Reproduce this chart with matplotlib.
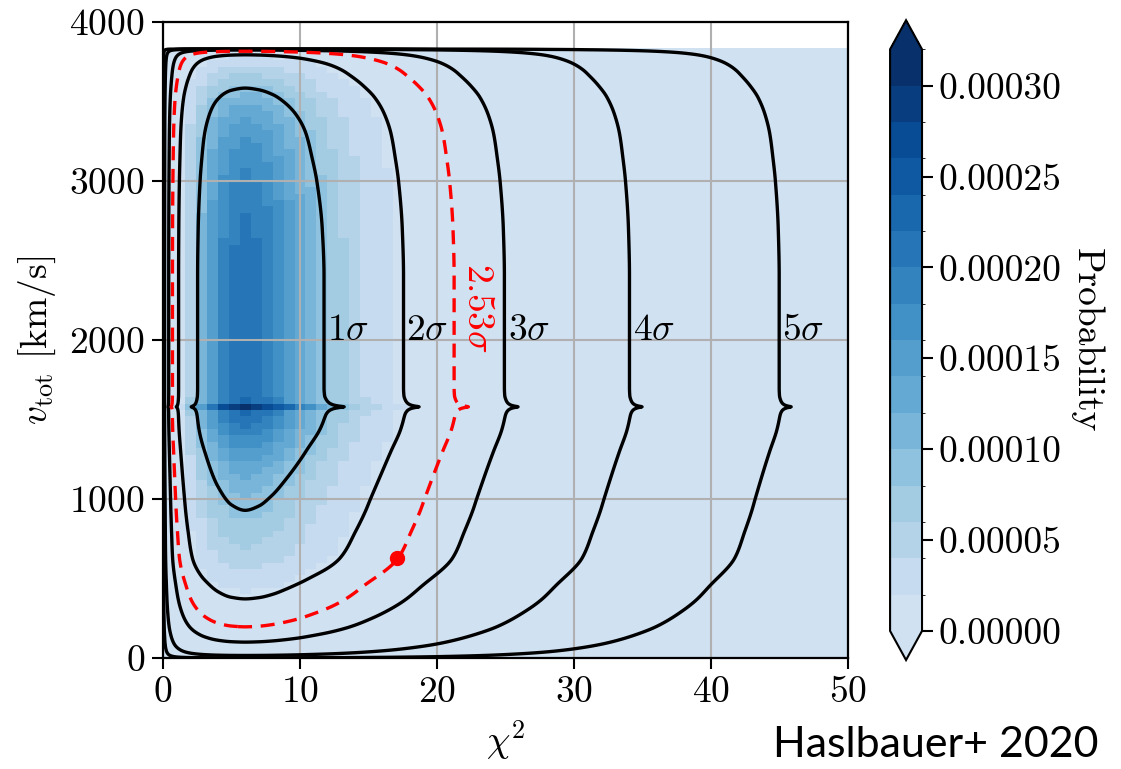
import numpy as np
import matplotlib
matplotlib.use("Agg")
import matplotlib.pyplot as plt
from matplotlib.colors import ListedColormap, BoundaryNorm
from matplotlib.ticker import FormatStrFormatter
from math import erf, sqrt

plt.rcParams["font.family"] = "serif"
plt.rcParams["font.serif"] = ["cmr10"]
plt.rcParams["mathtext.fontset"] = "cm"
plt.rcParams["axes.formatter.use_mathtext"] = True
plt.rcParams["axes.unicode_minus"] = False

# log-density profile along chi^2
chi2_knots = [0.0, 0.02, 0.03, 0.05, 0.1, 0.2, 0.35, 0.5, 0.75, 1, 1.5, 2, 2.5, 3,
              4, 5, 6, 7, 8, 9, 10, 11, 12, 13, 14, 15, 16, 17, 18, 20, 22, 24,
              26, 28, 30, 33, 36, 40, 44, 48, 52, 56, 60, 70, 80]
chi2_logp = [-40, -11.74, -10.52, -9.01, -6.96, -4.93, -3.32, -2.33, -1.24, -0.5,
             0.47, 1.08, 1.50, 1.80, 2.16, 2.33, 2.38, 2.34, 2.24, 2.09, 1.91,
             1.69, 1.46, 1.20, 0.92, 0.62, 0.32, 0.0, -0.33, -1.01, -1.73, -2.47,
             -3.23, -4.0, -4.8, -6.01, -7.25, -8.93, -10.65, -12.39, -14.15,
             -15.92, -17.72, -22.25, -26.85]

# log-density profile along v_tot (km/s)
v_knots = [0, 1, 5, 10, 20, 40, 70, 100, 150, 200, 300, 365, 450, 630, 800, 930,
           1000, 1200, 1300, 1430, 1480, 1510, 1535, 1555, 1568, 1575, 1580, 1585,
           1592, 1605, 1625, 1650, 1700, 2000, 2400, 2700, 3000, 3150, 3300, 3420,
           3530, 3600, 3660, 3700, 3740, 3770, 3790, 3805, 3815, 3822, 3828, 3832]
v_logp = [-30, -14.4, -11.2, -9.8, -8.4, -7.0, -5.9, -5.2, -4.4, -3.8, -3.0, -2.6,
          -2.2, -1.4, -1.08, -0.86, -0.76, -0.46, -0.3, -0.08, -0.02, 0.01, 0.04,
          0.09, 0.17, 0.27, 0.38, 0.27, 0.17, 0.09, 0.04, 0.01, 0.0, 0.0, 0.0,
          -0.03, -0.12, -0.2, -0.3, -0.45, -0.68, -0.92, -1.18, -1.38, -1.68,
          -2.05, -2.45, -3.0, -3.7, -4.7, -7.0, -14.0]

plateau_prob = 0.00021          # probability at the chi^2 mode, v_tot = 2000
sigmas = [1, 2, 3, 4, 5]
obs_sigma = 2.53
obs_chi2, obs_v = 17.1, 630

levels = np.linspace(0, 0.00032, 17)
cbar_ticks = [0, 0.00005, 0.0001, 0.00015, 0.0002, 0.00025, 0.0003]


def pchip(xk, yk, x):
    xk = np.asarray(xk, float)
    yk = np.asarray(yk, float)
    h = np.diff(xk)
    d = np.diff(yk) / h
    m = np.zeros_like(yk)
    m[0], m[-1] = d[0], d[-1]
    for k in range(1, len(xk) - 1):
        if d[k - 1] * d[k] > 0:
            w1 = 2 * h[k] + h[k - 1]
            w2 = h[k] + 2 * h[k - 1]
            m[k] = (w1 + w2) / (w1 / d[k - 1] + w2 / d[k])
    i = np.clip(np.searchsorted(xk, x, side="right") - 1, 0, len(xk) - 2)
    t = (x - xk[i]) / h[i]
    return (yk[i] * (2 * t**3 - 3 * t**2 + 1) + h[i] * m[i] * (t**3 - 2 * t**2 + t)
            + yk[i + 1] * (-2 * t**3 + 3 * t**2) + h[i] * m[i + 1] * (t**3 - t**2))


def log_density(x, v):
    lx = pchip(chi2_knots, chi2_logp, x) - max(chi2_logp)
    lv = pchip(v_knots, v_logp, v)
    return lv[:, None] + lx[None, :]


# fine grid for the confidence contours
xf = np.linspace(0, 80, 2001)
vf = np.linspace(0, 3832, 1917)
dens = np.exp(log_density(xf, vf))
flat = np.sort(dens.ravel())[::-1]
cum = np.cumsum(flat) / flat.sum()


def hpd_level(n):
    return flat[np.searchsorted(cum, erf(n / sqrt(2)))]


sig_levels = [hpd_level(n) for n in sigmas]
obs_level = hpd_level(obs_sigma)

# binned probability for the colour map
xe = np.arange(0, 51, 0.8)
ve = np.arange(0, 3841, 40)
xc = 0.5 * (xe[1:] + xe[:-1])
vc = 0.5 * (ve[1:] + ve[:-1])
prob = plateau_prob * np.exp(log_density(xc, vc))

fig = plt.figure(figsize=(11.21, 7.69), dpi=100)
ax = fig.add_axes([0.1454, 0.1443, 0.611, 0.827])
cax = fig.add_axes([0.794, 0.1417, 0.0285, 0.832])

cmap = ListedColormap(plt.cm.Blues(np.linspace(0.2, 1.0, 16)))
cmap.set_under(cmap(0))
cmap.set_over(cmap(cmap.N - 1))
norm = BoundaryNorm(levels, cmap.N)
mesh = ax.pcolormesh(xe, ve, prob, cmap=cmap, norm=norm, zorder=0.5)

ax.contour(xf, vf, dens, levels=sorted(sig_levels), colors="k",
           linewidths=2.4, zorder=3)
ax.contour(xf, vf, dens, levels=[obs_level], colors="red",
           linestyles=[(0, (4.2, 2.6))], linewidths=2.4, zorder=3)
ax.plot(obs_chi2, obs_v, "o", color="red", ms=10, zorder=4)

# sigma labels just right of each contour along v_tot = 2000
row = np.argmin(np.abs(vf - 2000))
for n, lev in zip(sigmas, sig_levels):
    xr = xf[np.where(dens[row] >= lev)[0].max()]
    ax.text(xr + 0.25, 2000, r"$%d\sigma$" % n, fontsize=27,
            ha="left", va="baseline", zorder=5)
xr = xf[np.where(dens[row] >= obs_level)[0].max()]
ax.text(xr + 0.5, 2200, r"$2.53\sigma$", fontsize=27, color="red",
        rotation=270, ha="left", va="center", zorder=5)

ax.set_xlim(0, 50)
ax.set_ylim(0, 4000)
ax.set_xticks([0, 10, 20, 30, 40, 50])
ax.set_yticks([0, 1000, 2000, 3000, 4000])
ax.set_axisbelow("line")
ax.grid(True, color="#b0b0b0", lw=1.5)
ax.tick_params(labelsize=27, length=8, width=1.5, direction="out", pad=5)
for sp in ax.spines.values():
    sp.set_linewidth(1.6)
ax.set_xlabel(r"$\chi^2$", fontsize=27, labelpad=6)
ax.set_ylabel(r"$v_{\rm tot}$ [km/s]", fontsize=27, labelpad=8)

cbar = fig.colorbar(mesh, cax=cax, extend="both", ticks=cbar_ticks)
cbar.ax.yaxis.set_major_formatter(FormatStrFormatter("%.5f"))
cbar.ax.tick_params(labelsize=27, length=8, width=1.5, pad=4)
cbar.outline.set_linewidth(1.5)
cbar.set_label("Probability", fontsize=27, rotation=270, labelpad=30)

fig.text(0.69, 0.016, "Haslbauer+ 2020", fontsize=31, family=["Lato", "DejaVu Sans"],
         ha="left", va="baseline")

fig.savefig("out.png", dpi=100, facecolor="white")
